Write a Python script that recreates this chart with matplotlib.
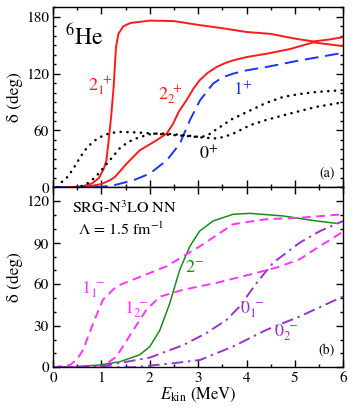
import matplotlib
matplotlib.use("Agg")
import matplotlib.pyplot as plt
from matplotlib.ticker import MultipleLocator

plt.rcParams['font.family'] = ['STIXGeneral', 'DejaVu Serif']
plt.rcParams['mathtext.fontset'] = 'stix'

# ---- panel (a) data ----
e21p = [0.0, 0.3, 0.6, 0.8, 0.95, 1.05, 1.1, 1.15, 1.2, 1.25, 1.3, 1.35, 1.45, 1.6, 2.0, 2.5, 3.0, 3.5, 4.0, 4.5, 5.0, 5.38, 5.7, 6.0]
d21p = [0.0, 0.0, 1.0, 4.0, 10.0, 20.0, 28.0, 50.0, 75.0, 105.0, 148.0, 162.0, 170.0, 173.5, 176.0, 175.5, 171.5, 168.0, 164.0, 162.0, 157.0, 154.0, 156.0, 158.5]

e22p = [0.0, 0.5, 0.8, 1.0, 1.17, 1.28, 1.52, 1.79, 2.14, 2.35, 2.48, 2.6, 2.76, 2.9, 3.03, 3.2, 3.38, 3.55, 3.72, 4.0, 4.41, 4.9, 5.38, 5.7, 6.0]
d22p = [0.0, 0.0, 1.5, 3.5, 7.4, 11.0, 25.0, 39.0, 49.7, 56.8, 67.0, 80.0, 92.0, 104.0, 113.0, 121.0, 127.0, 131.0, 134.0, 137.5, 141.0, 146.0, 153.0, 151.0, 149.0]

e1p = [0.0, 0.8, 1.0, 1.24, 1.66, 2.0, 2.35, 2.62, 2.83, 3.04, 3.31, 3.5, 3.72, 4.0, 4.41, 5.1, 6.0]
d1p = [0.0, 0.0, 0.5, 2.0, 7.4, 14.5, 28.5, 46.0, 71.0, 92.0, 109.6, 116.0, 120.0, 123.5, 127.0, 134.0, 142.0]

e0pA = [0.1, 0.15, 0.28, 0.38, 0.47, 0.55, 0.64, 0.74, 0.9, 1.05, 1.2, 1.4, 1.7, 2.0, 2.4, 2.8, 3.1, 3.4, 3.7, 4.07, 4.4, 4.76, 5.1, 5.45, 5.97]
d0pA = [0.0, 4.5, 10.0, 17.0, 24.0, 31.0, 38.0, 44.0, 51.0, 55.0, 57.5, 58.5, 58.0, 57.0, 55.5, 54.0, 52.5, 51.5, 56.0, 65.5, 71.0, 76.0, 80.5, 85.0, 89.5]

e0pB = [0.45, 0.6, 0.76, 0.95, 1.17, 1.4, 1.6, 1.79, 2.0, 2.2, 2.5, 2.7, 2.9, 3.05, 3.2, 3.4, 3.7, 4.07, 4.4, 4.76, 5.1, 5.45, 5.97]
d0pB = [0.0, 1.5, 5.6, 15.0, 28.5, 42.6, 49.0, 53.0, 56.0, 57.0, 56.0, 55.0, 54.0, 53.0, 55.0, 62.0, 72.0, 81.0, 89.0, 95.5, 98.5, 100.7, 102.5]

# ---- panel (b) data ----
e2m = [0.0, 0.5, 0.97, 1.38, 1.79, 2.0, 2.21, 2.41, 2.62, 2.83, 3.03, 3.31, 3.72, 4.07, 4.76, 5.45, 5.85]
d2m = [0.0, 0.5, 1.7, 4.0, 9.0, 15.0, 27.0, 46.0, 70.6, 87.5, 98.4, 105.7, 110.5, 111.2, 109.3, 105.7, 104.0]

e11m = [0.0, 0.35, 0.5, 0.62, 0.72, 0.83, 1.03, 1.31, 1.66, 2.35, 3.04, 3.72, 4.41, 5.1, 6.0]
d11m = [0.0, 1.7, 6.0, 12.5, 22.0, 32.0, 48.8, 58.5, 63.4, 73.0, 87.5, 103.3, 107.0, 108.0, 110.5]

e12m = [0.0, 1.0, 1.31, 1.66, 1.93, 2.21, 2.69, 3.38, 4.07, 4.62, 5.1, 5.45, 6.0]
d12m = [0.0, 0.0, 7.7, 27.0, 41.6, 51.0, 56.0, 61.0, 67.0, 72.0, 78.0, 86.0, 98.0]

e01m = [0.0, 1.0, 2.0, 2.69, 3.17, 3.59, 3.86, 4.21, 4.55, 5.1, 5.52, 6.0]
d01m = [0.0, 0.7, 7.0, 16.0, 24.7, 34.3, 44.0, 61.0, 75.5, 90.0, 98.4, 105.7]

e02m = [0.0, 1.66, 2.48, 3.04, 3.72, 4.41, 5.1, 6.0]
d02m = [0.0, 0.0, 2.9, 5.3, 15.0, 27.0, 36.7, 51.2]

RED = '#ff1a1a'
BLUE = '#1a33ff'
GREEN = '#1a8c1a'
MAG = '#ff33ff'
PUR = '#9933cc'

fig = plt.figure(figsize=(3.52, 4.09), dpi=100)
L, R = 0.151, 0.975
axa = fig.add_axes([L, 0.542, R - L, 0.982 - 0.542])
axb = fig.add_axes([L, 0.102, R - L, 0.542 - 0.102])

lw = 1.4
axa.plot(e21p, d21p, color=RED, lw=lw)
axa.plot(e22p, d22p, color=RED, lw=lw)
axa.plot(e1p, d1p, color=BLUE, lw=lw, dashes=(7, 3.5))
axa.plot(e0pA, d0pA, color='black', lw=1.8, dashes=(0.1, 2.6), dash_capstyle='round')
axa.plot(e0pB, d0pB, color='black', lw=1.8, dashes=(0.1, 2.6), dash_capstyle='round')

axb.plot(e2m, d2m, color=GREEN, lw=1.1)
axb.plot(e11m, d11m, color=MAG, lw=lw, dashes=(4.5, 2.8))
axb.plot(e12m, d12m, color=MAG, lw=lw, dashes=(4.5, 2.8))
axb.plot(e01m, d01m, color=PUR, lw=lw, dashes=(6, 2.5, 1.2, 2.5))
axb.plot(e02m, d02m, color=PUR, lw=lw, dashes=(6, 2.5, 1.2, 2.5))

fs = 13
axa.text(0.25, 158, r'$^{6}\mathrm{He}$', fontsize=17, ha='left', va='center')
axa.text(0.97, 107, r'$2_1^{\ +}$', color=RED, fontsize=fs, ha='center', va='center')
axa.text(2.42, 97, r'$2_2^{\ +}$', color=RED, fontsize=fs, ha='center', va='center')
axa.text(3.92, 103, r'$1^{+}$', color=BLUE, fontsize=fs, ha='center', va='center')
axa.text(3.22, 35, r'$0^{+}$', color='black', fontsize=fs, ha='center', va='center')
axa.text(5.66, 15, '(a)', fontsize=10, ha='center', va='center')

axb.text(0.38, 115, r'SRG-N$^{3}$LO NN', fontsize=11.5, ha='left', va='center')
axb.text(0.52, 100, 'Λ = 1.5 fm$^{-1}$', fontsize=11.5, ha='left', va='center')
axb.text(0.82, 56, r'$1_1^{\ -}$', color=MAG, fontsize=fs, ha='center', va='center')
axb.text(1.72, 42, r'$1_2^{\ -}$', color=MAG, fontsize=fs, ha='center', va='center')
axb.text(2.92, 72, r'$2^{-}$', color=GREEN, fontsize=fs, ha='center', va='center')
axb.text(4.12, 42, r'$0_1^{\ -}$', color=PUR, fontsize=fs, ha='center', va='center')
axb.text(4.82, 25, r'$0_2^{\ -}$', color=PUR, fontsize=fs, ha='center', va='center')
axb.text(5.66, 12, '(b)', fontsize=10, ha='center', va='center')

axa.set_xlim(0, 6)
axa.set_ylim(0, 190)
axb.set_xlim(0, 6)
axb.set_ylim(0, 130)

axa.yaxis.set_major_locator(MultipleLocator(60))
axa.yaxis.set_minor_locator(MultipleLocator(10))
axb.yaxis.set_major_locator(MultipleLocator(30))
axb.yaxis.set_minor_locator(MultipleLocator(10))
for ax in (axa, axb):
    ax.xaxis.set_major_locator(MultipleLocator(1))
    ax.xaxis.set_minor_locator(MultipleLocator(0.5))
    ax.tick_params(which='both', direction='in', top=True, right=True, labelsize=11, width=1.0, pad=3)
    ax.tick_params(which='major', length=5)
    ax.tick_params(which='minor', length=2.5)
    for s in ax.spines.values():
        s.set_linewidth(1.0)
    ax.set_ylabel('δ (deg)', fontsize=12.5)
    ax.yaxis.set_label_coords(-0.105, 0.5)
axa.tick_params(labelbottom=False)
axb.set_xlabel(r'$E_{\mathrm{kin}}$ (MeV)', fontsize=12, labelpad=1)

fig.savefig('out.png', dpi=100)
